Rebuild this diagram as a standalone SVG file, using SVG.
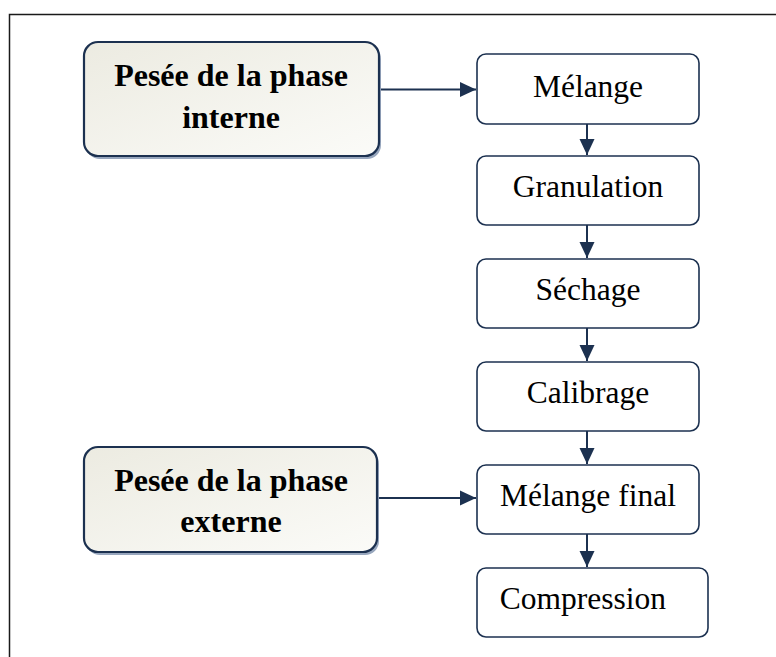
<svg xmlns="http://www.w3.org/2000/svg" width="776" height="657" viewBox="0 0 776 657">
<style>
.frame{fill:none;stroke:#1a1a1a;stroke-width:1.5}
.src{fill:url(#g);stroke:#1c3150;stroke-width:2.2}
.shadow{fill:#97a6bd}
.step{fill:#fff;stroke:#1c3150;stroke-width:1.6}
.bt{font-family:"Liberation Serif","Times New Roman",serif;font-weight:bold;font-size:32px;fill:#000;text-anchor:middle}
.t{font-family:"Liberation Serif","Times New Roman",serif;font-size:31.5px;fill:#000;text-anchor:middle}
.c{stroke:#1c3150;stroke-width:2;fill:none}
</style>
<defs>
<linearGradient id="g" x1="0" y1="0" x2="1" y2="1">
<stop offset="0" stop-color="#ecebe1"/>
<stop offset="1" stop-color="#fbfbf8"/>
</linearGradient>
<marker id="a" markerWidth="17" markerHeight="16" refX="16" refY="8" orient="auto" markerUnits="userSpaceOnUse">
<path d="M0,0.5 L16,8 L0,15.5 Z" fill="#1c3150"/>
</marker>
</defs>
<path class="frame" d="M9.5,657 L9.5,14.5 L776,14.5"/>
<g id="connectors">
<line class="c" x1="379" y1="89.5" x2="476" y2="89.5" marker-end="url(#a)"/>
<line class="c" x1="377" y1="498" x2="476" y2="498" marker-end="url(#a)"/>
<line class="c" x1="587" y1="124" x2="587" y2="155" marker-end="url(#a)"/>
<line class="c" x1="587" y1="225" x2="587" y2="258" marker-end="url(#a)"/>
<line class="c" x1="587" y1="328" x2="587" y2="361" marker-end="url(#a)"/>
<line class="c" x1="587" y1="431" x2="587" y2="464" marker-end="url(#a)"/>
<line class="c" x1="587" y1="534" x2="587" y2="567" marker-end="url(#a)"/>
</g>
<g id="pesee-interne">
<rect class="shadow" x="86" y="45" width="295" height="114" rx="14"/>
<rect class="src" x="84" y="42" width="295" height="114" rx="14"/>
<text class="bt" x="231" y="86">Pesée de la phase</text>
<text class="bt" x="231" y="128">interne</text>
</g>
<g id="pesee-externe">
<rect class="shadow" x="86" y="450" width="293" height="105" rx="14"/>
<rect class="src" x="84" y="447" width="293" height="105" rx="14"/>
<text class="bt" x="231" y="491">Pesée de la phase</text>
<text class="bt" x="231" y="532">externe</text>
</g>
<g id="melange">
<rect class="step" x="477" y="54" width="222" height="70" rx="9"/>
<text class="t" x="588" y="97">Mélange</text>
</g>
<g id="granulation">
<rect class="step" x="477" y="156" width="222" height="69" rx="9"/>
<text class="t" x="588" y="197">Granulation</text>
</g>
<g id="sechage">
<rect class="step" x="477" y="259" width="222" height="69" rx="9"/>
<text class="t" x="588" y="300">Séchage</text>
</g>
<g id="calibrage">
<rect class="step" x="477" y="362" width="222" height="69" rx="9"/>
<text class="t" x="588" y="403">Calibrage</text>
</g>
<g id="melange-final">
<rect class="step" x="477" y="465" width="222" height="69" rx="9"/>
<text class="t" x="588" y="506">Mélange final</text>
</g>
<g id="compression">
<rect class="step" x="477" y="568" width="231" height="69" rx="9"/>
<text class="t" x="583" y="609">Compression</text>
</g>
</svg>
